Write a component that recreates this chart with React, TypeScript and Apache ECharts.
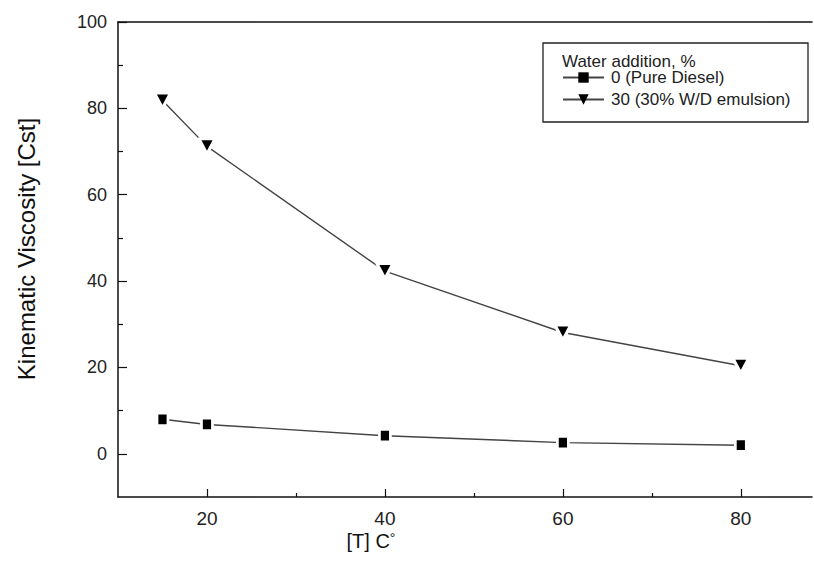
import React, { useEffect, useRef } from "react";
import * as echarts from "echarts";

const temperatures = [15, 20, 40, 60, 80];
const pureDiesel = [8.0, 6.8, 4.2, 2.6, 2.0];
const emulsion = [81.8, 71.2, 42.3, 28.1, 20.4];
const seriesNames = ["0 (Pure Diesel)", "30 (30% W/D emulsion)"];
const xMajorTicks = [20, 40, 60, 80];
const xMinorTicks = [30, 50, 70];
const yMajorTicks = [0, 20, 40, 60, 80, 100];
const yMinorTicks = [10, 30, 50, 70, 90];
const legendTitle = "Water addition, %";
const yTitle = "Kinematic Viscosity [Cst]";
const xTitleMain = "[T] C";
const xTitleSup = "°";

const FONT = "Arial, 'Liberation Sans', sans-serif";

export default function App() {
  const ref = useRef<HTMLDivElement>(null);
  useEffect(() => {
    if (!ref.current) return;
    const chart = echarts.init(ref.current, undefined, { renderer: "svg" });
    const axisLine = { show: true, onZero: false, lineStyle: { color: "#111", width: 1.5 } };
    const hiddenLine = { show: false, onZero: false };
    const tickStyle = { color: "#111", width: 1.2 };
    const xBase = { type: "value", min: 10, max: 88, splitLine: { show: false } };
    const yBase = { type: "value", min: -10, max: 100, splitLine: { show: false } };
    chart.setOption({
      animation: false,
      backgroundColor: "#fff",
      grid: { left: 118, top: 22, right: 2, bottom: 66, containLabel: false },
      xAxis: [
        {
          ...xBase,
          position: "bottom",
          axisLine,
          axisTick: { show: true, inside: true, length: 8, lineStyle: tickStyle, customValues: xMajorTicks },
          axisLabel: {
            color: "#222",
            fontSize: 19,
            fontFamily: FONT,
            margin: 12,
            customValues: xMajorTicks,
          },
        },
        {
          ...xBase,
          position: "bottom",
          axisLine: hiddenLine,
          axisTick: { show: true, inside: true, length: 4, lineStyle: tickStyle, customValues: xMinorTicks },
          axisLabel: { show: false },
        },
        {
          ...xBase,
          position: "top",
          axisLine,
          axisTick: { show: false },
          axisLabel: { show: false },
        },
      ],
      yAxis: [
        {
          ...yBase,
          position: "left",
          axisLine,
          axisTick: { show: true, inside: true, length: 9, lineStyle: tickStyle, customValues: yMajorTicks },
          axisLabel: {
            color: "#222",
            fontSize: 18,
            fontFamily: FONT,
            margin: 11,
            customValues: yMajorTicks,
          },
        },
        {
          ...yBase,
          position: "left",
          axisLine: hiddenLine,
          axisTick: { show: true, inside: true, length: 5, lineStyle: tickStyle, customValues: yMinorTicks },
          axisLabel: { show: false },
        },
      ],
      legend: {
        orient: "vertical",
        left: 562,
        top: 69,
        itemWidth: 41,
        itemHeight: 13,
        itemGap: 5,
        padding: 0,
        itemStyle: { borderWidth: 0 },
        textStyle: { color: "#222", fontSize: 17, fontFamily: FONT, padding: [0, 0, 0, 2] },
        data: seriesNames,
      },
      graphic: [
        {
          type: "rect",
          shape: { x: 543, y: 43, width: 265, height: 79 },
          style: { fill: "none", stroke: "#222", lineWidth: 1.3 },
          z: 10,
        },
        {
          type: "text",
          x: 562,
          y: 61,
          style: {
            text: legendTitle,
            fill: "#222",
            fontSize: 17,
            fontFamily: FONT,
            verticalAlign: "middle",
          },
          z: 10,
        },
        {
          type: "text",
          x: 26,
          y: 249,
          rotation: Math.PI / 2,
          style: {
            text: yTitle,
            fill: "#111",
            fontSize: 24,
            fontFamily: FONT,
            align: "center",
            verticalAlign: "middle",
          },
        },
        {
          type: "text",
          x: 371,
          y: 541,
          style: {
            text: "{m|" + xTitleMain + "}{s|" + xTitleSup + "}",
            align: "center",
            verticalAlign: "middle",
            rich: {
              m: { fill: "#111", fontSize: 20, fontFamily: FONT, verticalAlign: "bottom" },
              s: { fill: "#111", fontSize: 14, fontFamily: FONT, verticalAlign: "top", padding: [0, 0, 6, 0] },
            },
          },
        },
      ],
      series: [
        {
          name: seriesNames[0],
          type: "line",
          data: temperatures.map((t, i) => [t, pureDiesel[i]]),
          symbol: "rect",
          symbolSize: [11, 13],
          itemStyle: { color: "#000", borderColor: "#fff", borderWidth: 3 },
          lineStyle: { color: "#444", width: 1.4 },
        },
        {
          name: seriesNames[1],
          type: "line",
          data: temperatures.map((t, i) => [t, emulsion[i]]),
          symbol: "triangle",
          symbolRotate: 180,
          symbolSize: [16, 15],
          itemStyle: { color: "#000", borderColor: "#fff", borderWidth: 3, borderJoin: "round" },
          lineStyle: { color: "#444", width: 1.4 },
        },
      ],
    });
    return () => chart.dispose();
  }, []);
  return <div ref={ref} style={{ width: 814, height: 563, position: "absolute", left: 0, top: 0 }} />;
}
